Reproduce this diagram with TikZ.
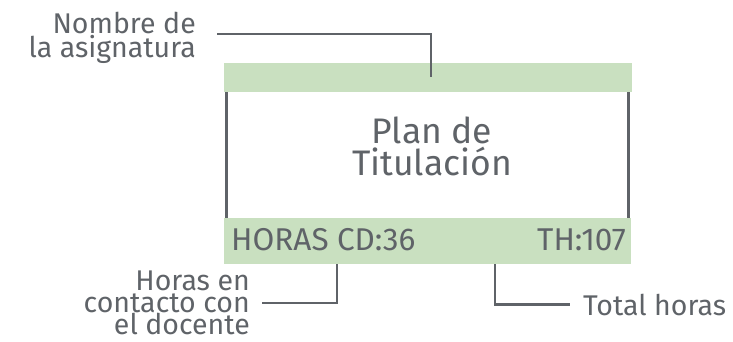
\documentclass[tikz,border=0pt]{standalone}
\usepackage{fontspec}
\setmainfont{Fira Sans}
\usepackage{tikz}
\usetikzlibrary{%
  arrows.meta,%
  positioning
}
\definecolor{txtgray}{HTML}{5F6368}
\definecolor{barverde}{HTML}{C9E0C0}
\tikzset{
  barra/.style={fill=barverde,draw=none,inner sep=0pt,anchor=north west},
  guia/.style={draw=txtgray,line width=2.4pt},
  nota/.style={text=txtgray,font=\fontsize{28.5}{21.5}\selectfont,align=right,inner sep=0pt},
  dato/.style={text=txtgray,font=\fontsize{31.5}{32}\selectfont,inner sep=0pt}
}

\begin{document}
\begin{tikzpicture}[x=1pt,y=-1pt]
      \useasboundingbox (0,0) rectangle (733,341);
      % bars
      \node [barra,minimum width=408pt,minimum height=29pt] (titulo) at (224,63) {};
      \node [barra,minimum width=407pt,minimum height=46pt] (horas) at (224,218) {};
      \draw [guia] (titulo.south west) ++(2.5,0) -- ([xshift=2.5pt]horas.north west);
      \draw [guia] (titulo.south east) ++(-4,0) -- ([xshift=-3pt]horas.north east);
      \node [text=txtgray,font=\fontsize{35.5}{32}\selectfont,align=center,inner sep=0pt] (plan) at (432,146) {Plan de\\Titulación};
      \node [dato,anchor=base west] (hcd) at (231,250) {HORAS CD:36};
      \node [dato,anchor=base east] (th) at (626,250) {TH:107};
      % notes
      \node [nota,anchor=east] (nombre) at (196,38) {Nombre de\\la asignatura};
      \node [nota,anchor=east] (contacto) at (250,303) {Horas en\\contacto con\\el docente};
      \node [nota,anchor=base west,align=left] (total) at (583,315) {Total horas};
      \coordinate (c1) at (431,77);
      \coordinate (c2) at (337,264);
      \coordinate (c3) at (495,264);
      \draw [guia] ([shift={(21,-4)}]nombre.east) -| (c1);
      \draw [guia] (c2) |- ([xshift=12pt]contacto.east);
      \draw [guia] (c3) |- ([xshift=-13pt]total.west);
    \end{tikzpicture}
\end{document}
